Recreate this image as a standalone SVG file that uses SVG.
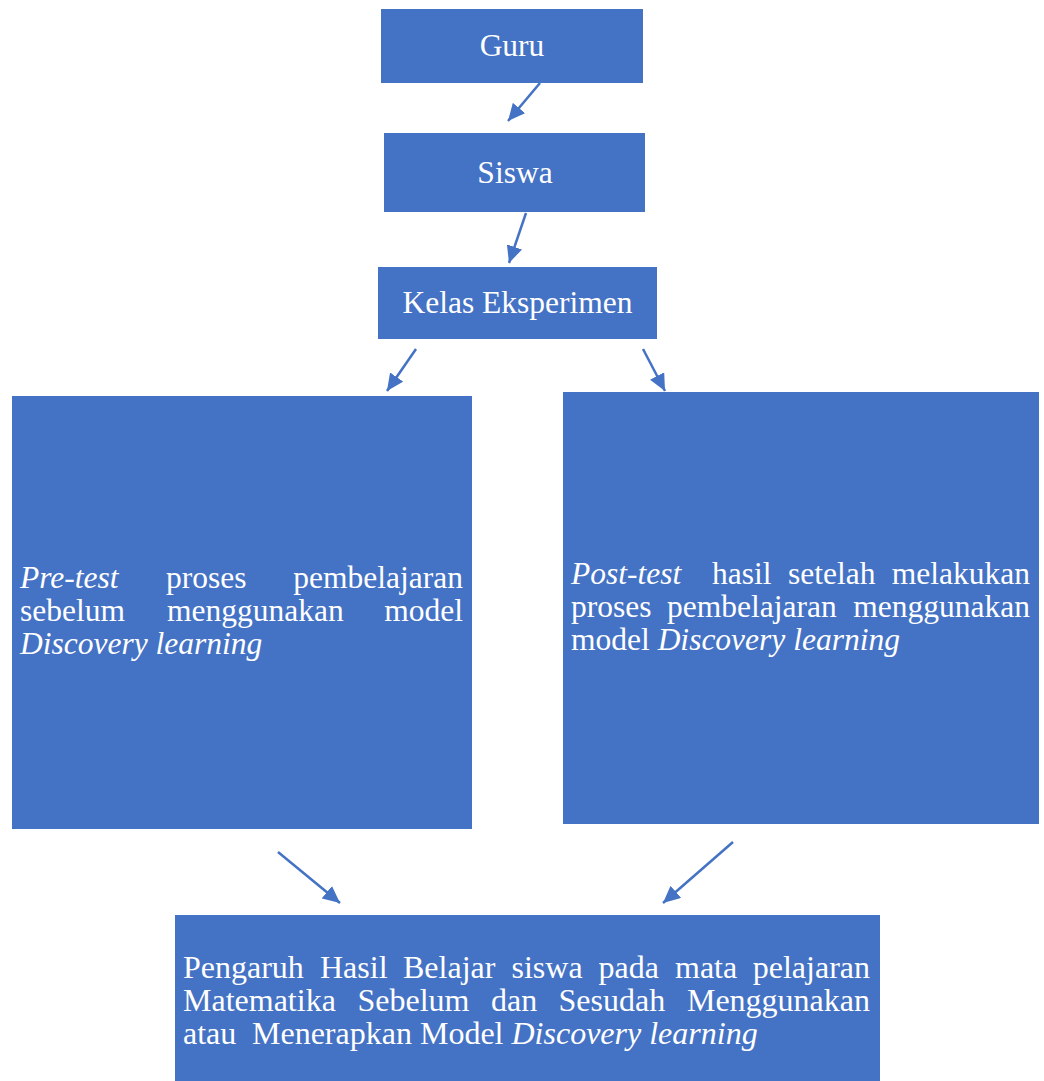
<svg xmlns="http://www.w3.org/2000/svg" width="1044" height="1081" viewBox="0 0 1044 1081">
<style>
.box{fill:#4472C4;}
.t{font-family:"Liberation Serif","Times New Roman",serif;fill:#ffffff;font-size:31.5px;}
.b{font-size:32px;}
.c{text-anchor:middle;}
.e{text-anchor:end;}
.i{font-style:italic;}
.conn{stroke:#4472C4;stroke-width:2.5;fill:none;marker-end:url(#ah);}
</style>
<defs>
<marker id="ah" markerUnits="userSpaceOnUse" markerWidth="18" markerHeight="16" refX="17" refY="8" orient="auto">
<path d="M0,0 L17,8 L0,16 Z" fill="#4472C4"/>
</marker>
</defs>
<rect width="1044" height="1081" fill="#ffffff"/>
<g id="guru">
<rect class="box" x="381" y="9" width="262" height="74"/>
<text class="t c" x="512" y="56">Guru</text>
</g>
<g id="siswa">
<rect class="box" x="384" y="133" width="261" height="79"/>
<text class="t c" x="515" y="183">Siswa</text>
</g>
<g id="kelas">
<rect class="box" x="378" y="267" width="279" height="72"/>
<text class="t c" x="517.5" y="313">Kelas Eksperimen</text>
</g>
<g id="pretest">
<rect class="box" x="12" y="396" width="460" height="433"/>
<text class="t i" x="20" y="588">Pre-test</text>
<text class="t" x="166" y="588">proses</text>
<text class="t e" x="463" y="588">pembelajaran</text>
<text class="t" x="20" y="621">sebelum</text>
<text class="t" x="167" y="621">menggunakan</text>
<text class="t e" x="463" y="621">model</text>
<text class="t i" x="20" y="654">Discovery learning</text>
</g>
<g id="posttest">
<rect class="box" x="563" y="392" width="476" height="432"/>
<text class="t i" x="571" y="584">Post-test</text>
<text class="t" x="712" y="584">hasil</text>
<text class="t" x="788" y="584">setelah</text>
<text class="t e" x="1030" y="584">melakukan</text>
<text class="t" x="571" y="617">proses</text>
<text class="t" x="667" y="617">pembelajaran</text>
<text class="t e" x="1030" y="617">menggunakan</text>
<text class="t" x="571" y="650">model <tspan class="i">Discovery learning</tspan></text>
</g>
<g id="pengaruh">
<rect class="box" x="175" y="915" width="705" height="166"/>
<text class="t b" x="183" y="978">Pengaruh</text>
<text class="t b" x="320" y="978">Hasil</text>
<text class="t b" x="403" y="978">Belajar</text>
<text class="t b" x="511.5" y="978">siswa</text>
<text class="t b" x="598.5" y="978">pada</text>
<text class="t b" x="675" y="978">mata</text>
<text class="t b e" x="870" y="978">pelajaran</text>
<text class="t b" x="183" y="1011">Matematika</text>
<text class="t b" x="357.5" y="1011">Sebelum</text>
<text class="t b" x="491" y="1011">dan</text>
<text class="t b" x="558.5" y="1011">Sesudah</text>
<text class="t b e" x="870" y="1011">Menggunakan</text>
<text class="t b" x="183" y="1044">atau<tspan x="252">Menerapkan Model </tspan><tspan class="i">Discovery learning</tspan></text>
</g>
<g id="connectors">
<line class="conn" x1="540" y1="83" x2="508" y2="121"/>
<line class="conn" x1="526" y1="213" x2="509" y2="263"/>
<line class="conn" x1="416" y1="349" x2="387" y2="391"/>
<line class="conn" x1="643" y1="349" x2="665" y2="391"/>
<line class="conn" x1="278" y1="852" x2="340" y2="903"/>
<line class="conn" x1="733" y1="842" x2="663" y2="903"/>
</g>
</svg>
